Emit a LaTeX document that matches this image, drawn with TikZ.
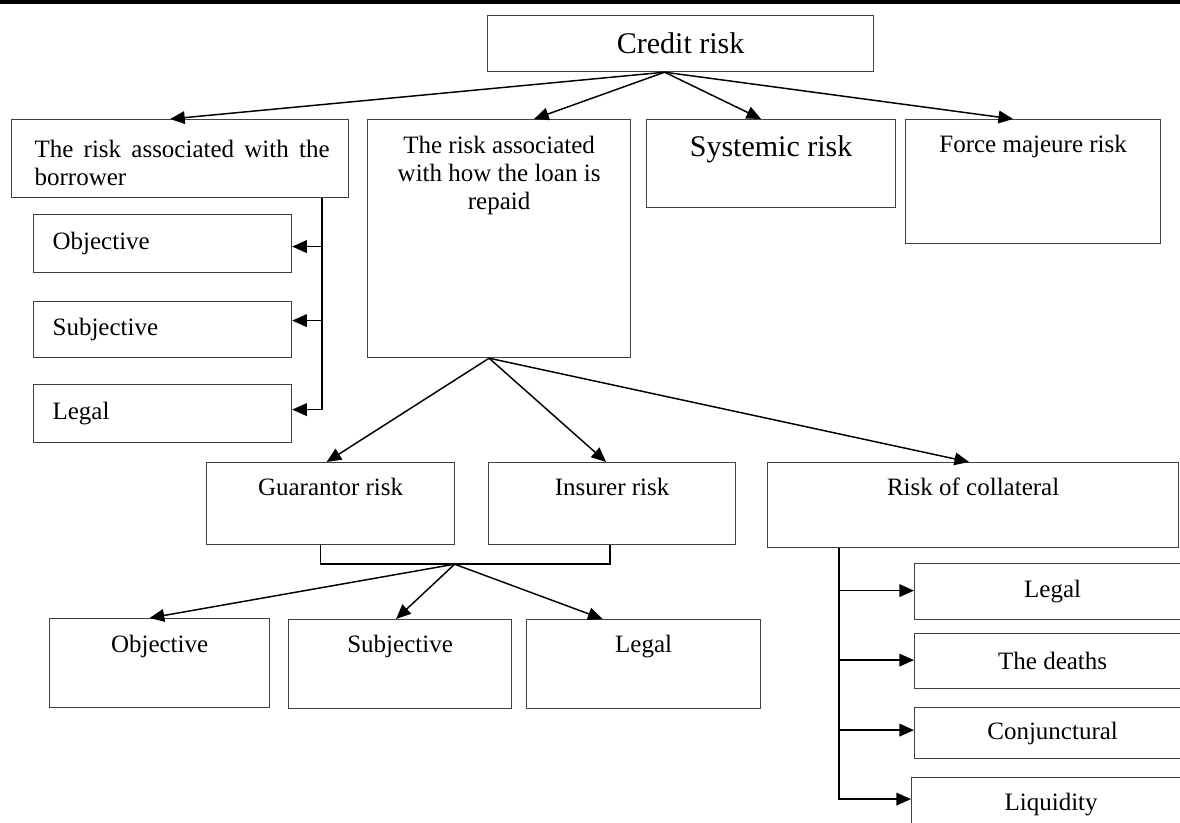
\documentclass[tikz,border=0pt]{standalone}
\usepackage{fontspec}
\setmainfont{Liberation Serif}
\usetikzlibrary{shapes,arrows.meta,positioning,calc}
\newcommand{\boxfont}{\fontsize{18.75pt}{21pt}\selectfont}
\newcommand{\bigboxfont}{\fontsize{22.5pt}{27pt}\selectfont}

\begin{document}
\begin{tikzpicture}[x=0.75pt,y=-0.75pt,
  riskbox/.style={draw=black!75,line width=0.9pt,rectangle,anchor=north west,inner sep=0pt,font=\boxfont},
  lbl/.style={anchor=north,yshift=-#1,inner sep=0pt,font=\boxfont,align=center},
  lbl/.default=12pt,
  arr/.style={line width=1.1pt,-{Triangle[length=11pt,width=9.5pt]}},
  stem/.style={line width=1.1pt}]
\useasboundingbox (0,0) rectangle (1180,823);
\clip (0,0) rectangle (1180,823);
% rule at the top
\draw[line width=3pt] (0,2) -- (1180,2);

% top level
\node[riskbox,minimum width=289.5pt,minimum height=42pt,font=\bigboxfont] (credit) at (487,15) {Credit risk};

% second level
\node[riskbox,minimum width=252.75pt,minimum height=58.5pt,
  label={[lbl=15.75pt,text width=221.25pt,align=justify,xshift=1.5pt]north:The risk associated with the borrower}] (borrower) at (11,119) {};
\node[riskbox,minimum width=197.25pt,minimum height=178.5pt,
  label={[lbl=12.75pt]north:{The risk associated\\with how the loan is\\repaid}}] (repaid) at (367,119) {};
\node[riskbox,minimum width=186.75pt,minimum height=66pt,
  label={[lbl=12.4pt,font=\bigboxfont]north:Systemic risk}] (sys) at (646,119) {};
\node[riskbox,minimum width=191.25pt,minimum height=93pt,
  label={[lbl]north:Force majeure risk}] (force) at (905,119) {};

% borrower column
\node[riskbox,minimum width=193.5pt,minimum height=43.5pt,inner xsep=14.25pt,text width=165pt,align=left] (objL) at (33,214) {Objective};
\node[riskbox,minimum width=193.5pt,minimum height=42pt,inner xsep=14.25pt,text width=165pt,align=left] (subjL) at (33,301) {Subjective};
\node[riskbox,minimum width=193.5pt,minimum height=43.5pt,inner xsep=14.25pt,text width=165pt,align=left] (legalL) at (33,384) {Legal};

% third level
\node[riskbox,minimum width=186pt,minimum height=61.5pt,
  label={[lbl]north:Guarantor risk}] (guar) at (206,462) {};
\node[riskbox,minimum width=185.25pt,minimum height=61.5pt,
  label={[lbl]north:Insurer risk}] (ins) at (488,462) {};
\node[riskbox,minimum width=308.25pt,minimum height=63.75pt,
  label={[lbl]north:Risk of collateral}] (coll) at (767,462) {};

% guarantor and insurer
\node[riskbox,minimum width=165pt,minimum height=66.75pt,
  label={[lbl=12.75pt]north:Objective}] (objB) at (49,618) {};
\node[riskbox,minimum width=167.25pt,minimum height=66.75pt,
  label={[lbl]north:Subjective}] (subjB) at (288,619) {};
\node[riskbox,minimum width=175.5pt,minimum height=66.75pt,
  label={[lbl]north:Legal}] (legalB) at (526,619) {};

% collateral
\node[riskbox,minimum width=207pt,minimum height=42pt] (legalR) at (914,563) {Legal};
\node[riskbox,minimum width=207pt,minimum height=41.25pt] (deaths) at (914,633) {The deaths};
\node[riskbox,minimum width=207pt,minimum height=38.25pt] (conj) at (914,707) {Conjunctural};
\node[riskbox,minimum width=209.25pt,minimum height=39.75pt] (liq) at (911,777) {Liquidity};

% arrows from credit risk
\coordinate (ctop) at ($(credit.south)+(-16,0)$);
\draw[arr] (ctop) -- ($(borrower.north)+(-10,0)$);
\draw[arr] (ctop) -- ($(repaid.north)+(35,0)$);
\draw[arr] (ctop) -- ($(sys.north)+(-10,0)$);
\draw[arr] (ctop) -- ($(force.north)+(-20,0)$);

% borrower
\coordinate (bstem) at ($(borrower.south east)+(-27,0)$);
\draw[arr] (bstem) |- ($(objL.east)+(0,3)$);
\draw[arr] (bstem) |- ($(subjL.east)+(0,-9)$);
\draw[arr] (bstem) |- ($(legalL.east)+(0,-4)$);

% repayment
\coordinate (rbot) at ($(repaid.south)+(-10,0)$);
\draw[arr] (rbot) -- ($(guar.north)+(-4,0)$);
\draw[arr] (rbot) -- ($(ins.north)+(-6,0)$);
\draw[arr] (rbot) -- ($(coll.north)+(-4,0)$);

% guarantor / insurer bracket
\draw[stem] ($(guar.south)+(-10,0)$) -- ++(0,19) -| ($(ins.south)+(-2,0)$);
\coordinate (fork) at ($(guar.south)+(124,19)$);
\draw[arr] (fork) -- ($(objB.north)+(-10,0)$);
\draw[arr] (fork) -- ($(subjB.north)+(-4,0)$);
\draw[arr] (fork) -- ($(legalB.north)+(-41,0)$);

% collateral
\coordinate (cstem) at ($(coll.south west)+(72,0)$);
\draw[arr] (cstem) |- ($(legalR.west)+(0,-1)$);
\draw[arr] (cstem) |- ($(deaths.west)+(0,-1)$);
\draw[arr] (cstem) |- ($(conj.west)+(0,-3)$);
\draw[arr] (cstem) |- ($(liq.west)+(0,-5)$);
\end{tikzpicture}
\end{document}
